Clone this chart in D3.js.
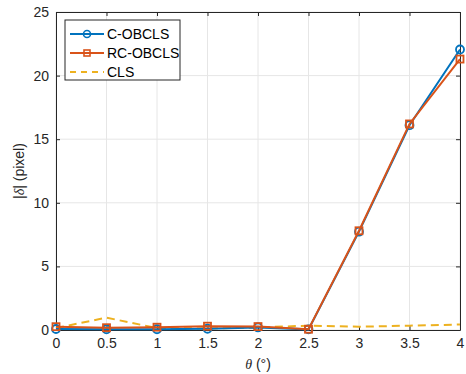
<!DOCTYPE html>
<html><head><meta charset="utf-8">
<script src="https://cdn.jsdelivr.net/npm/d3@7"></script>
<style>body{margin:0;background:#fff;} text{font-family:"Liberation Sans",Arial,sans-serif;}</style>
</head><body><svg id="c" width="466" height="374"></svg>
<script>
const thetas = [0, 0.5, 1, 1.5, 2, 2.5, 3, 3.5, 4];
const cObcls = [0.08, 0.06, 0.06, 0.1, 0.2, 0.05, 7.73, 16.1, 22.05];
const rcObcls = [0.26, 0.18, 0.22, 0.3, 0.27, 0.06, 7.8, 16.2, 21.3];
const cls = [0.15, 0.97, 0.15, 0.12, 0.2, 0.34, 0.26, 0.34, 0.43];
const xTicks = [0, 0.5, 1, 1.5, 2, 2.5, 3, 3.5, 4];
const yTicks = [0, 5, 10, 15, 20, 25];
const seriesNames = ["C-OBCLS", "RC-OBCLS", "CLS"];

const svg = d3.select("#c");
const L = 56, R = 460, T = 12, B = 330;
const x = d3.scaleLinear().domain([0, 4]).range([L, R]);
const y = d3.scaleLinear().domain([0, 25]).range([B, T]);
const axisCol = "#262626";

// grid
svg.append("g").selectAll("line").data(xTicks).join("line")
  .attr("x1", d => x(d)).attr("x2", d => x(d)).attr("y1", T).attr("y2", B)
  .attr("stroke", "#e6e6e6").attr("stroke-width", 1);
svg.append("g").selectAll("line").data(yTicks).join("line")
  .attr("y1", d => y(d)).attr("y2", d => y(d)).attr("x1", L).attr("x2", R)
  .attr("stroke", "#e6e6e6").attr("stroke-width", 1);

// axes
const fmt = d => String(d);
const gx = svg.append("g").attr("transform", `translate(0,${B})`)
  .call(d3.axisBottom(x).tickValues(xTicks).tickFormat(fmt).tickSizeInner(-4).tickSizeOuter(0).tickPadding(8));
const gy = svg.append("g").attr("transform", `translate(${L},0)`)
  .call(d3.axisLeft(y).tickValues(yTicks).tickFormat(fmt).tickSizeInner(-4).tickSizeOuter(0).tickPadding(7));
const gxt = svg.append("g").attr("transform", `translate(0,${T})`)
  .call(d3.axisTop(x).tickValues(xTicks).tickFormat("").tickSizeInner(-4).tickSizeOuter(0));
const gyr = svg.append("g").attr("transform", `translate(${R},0)`)
  .call(d3.axisRight(y).tickValues(yTicks).tickFormat("").tickSizeInner(-4).tickSizeOuter(0));
[gx, gy, gxt, gyr].forEach(g => {
  g.selectAll("path").attr("stroke", axisCol).attr("stroke-width", 1);
  g.selectAll("line").attr("stroke", axisCol);
  g.selectAll("text").attr("fill", axisCol).attr("font-size", 14).attr("font-family", "Liberation Sans, Arial, sans-serif");
});

// labels
const xl = svg.append("text").attr("x", (L + R) / 2).attr("y", 369).attr("text-anchor", "middle")
  .attr("font-size", 14).attr("fill", axisCol);
xl.append("tspan").attr("font-style", "italic").attr("font-family", "Liberation Serif, serif").text("θ");
xl.append("tspan").text(" (°)");
const yl = svg.append("text").attr("transform", `translate(24,${(T + B) / 2}) rotate(-90)`)
  .attr("text-anchor", "middle").attr("font-size", 14).attr("fill", axisCol);
yl.append("tspan").text("|");
yl.append("tspan").attr("font-style", "italic").attr("font-family", "Liberation Serif, serif").text("δ");
yl.append("tspan").text("| (pixel)");

const line = d3.line().x((d, i) => x(thetas[i])).y(d => y(d));
const cols = ["#0072BD", "#D95319", "#EDB120"];

// CLS dashed
svg.append("path").datum(cls).attr("d", line).attr("fill", "none")
  .attr("stroke", cols[2]).attr("stroke-width", 2).attr("stroke-dasharray", "8,5");
// C-OBCLS
svg.append("path").datum(cObcls).attr("d", line).attr("fill", "none").attr("stroke", cols[0]).attr("stroke-width", 2);
svg.append("g").selectAll("circle").data(cObcls).join("circle")
  .attr("cx", (d, i) => x(thetas[i])).attr("cy", d => y(d)).attr("r", 4)
  .attr("fill", "none").attr("stroke", cols[0]).attr("stroke-width", 1.8);
// RC-OBCLS
svg.append("path").datum(rcObcls).attr("d", line).attr("fill", "none").attr("stroke", cols[1]).attr("stroke-width", 2);
svg.append("g").selectAll("rect").data(rcObcls).join("rect")
  .attr("x", (d, i) => x(thetas[i]) - 3.5).attr("y", d => y(d) - 3.5).attr("width", 7).attr("height", 7)
  .attr("fill", "none").attr("stroke", cols[1]).attr("stroke-width", 1.8);

// legend
const lg = svg.append("g");
lg.append("rect").attr("x", 65).attr("y", 20).attr("width", 115).attr("height", 60)
  .attr("fill", "#fff").attr("stroke", axisCol).attr("stroke-width", 1);
const ly = [34, 53, 72];
seriesNames.forEach((n, i) => {
  const yy = ly[i];
  const l = lg.append("line").attr("x1", 70).attr("x2", 104).attr("y1", yy).attr("y2", yy)
    .attr("stroke", cols[i]).attr("stroke-width", 2);
  if (i === 2) l.attr("stroke-dasharray", "6,5");
  if (i === 0) lg.append("circle").attr("cx", 87).attr("cy", yy).attr("r", 3.5).attr("fill", "none").attr("stroke", cols[0]).attr("stroke-width", 1.6);
  if (i === 1) lg.append("rect").attr("x", 84).attr("y", yy - 3).attr("width", 6).attr("height", 6).attr("fill", "none").attr("stroke", cols[1]).attr("stroke-width", 1.6);
  lg.append("text").attr("x", 107).attr("y", yy + 5).attr("font-size", 14).attr("fill", "#000").text(n);
});
</script></body></html>
